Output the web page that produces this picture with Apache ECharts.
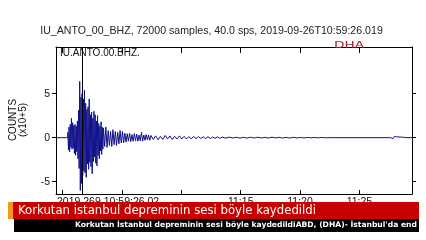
<!DOCTYPE html>
<html>
<head>
<meta charset="utf-8">
<script src="https://cdn.jsdelivr.net/npm/echarts@6/dist/echarts.min.js"></script>
<style>html,body{margin:0;padding:0;background:#fff}#c{width:426px;height:240px}</style>
</head>
<body>
<div id="c"></div>
<script>
// ---- data (minutes after 2019-09-26T10:59:26.019, counts x1e5) ----
const titleText = 'IU_ANTO_00_BHZ, 72000 samples, 40.0 sps, 2019-09-26T10:59:26.019';
const traceId = 'IU.ANTO.00.BHZ.';
const startLabel = '2019.269.10:59:26.02';
const xTickMinutes = [0.5664, 5.5664, 10.5664, 15.5664, 20.5664, 25.5664];
const xTickLabels = ['11:00', '11:05', '11:10', '11:15', '11:20', '11:25'];
const xLabelShown = ['11:15', '11:20', '11:25'];
const yTickValues = [-5, 0, 5];
const pickMinutes = 2.21;

const preEvent = [[0, 0], [0.98, 0]];
const onsetStart = 1.0, onsetStep = 0.05;
const onsetValues = [0.6, -1.4, 1.2, -1.6, 1.5, -1.1, 2.2, -1.3, 1.7, -1.2,
  1.4, -1.8, 1.5, -2.0, 1.3, -1.6, 1.9, -2.4, 3.1, -3.5,
  6.4, -6.0, 4.6, -5.2, 5.0, -4.3, 4.4, -3.8, 5.4, -4.0,
  3.9, -4.5, 3.2, -3.0, 3.5, -3.6, 4.4, -2.8, 2.6, -3.3,
  2.9, -4.1, 2.2, -2.7, 3.0, -2.2, 2.6, -2.9, 1.9, -3.2,
  2.5, -2.0, 1.6, -2.4, 1.3, -1.5, 1.8, -1.9, 1.2, -1.3];
const codaStart = 4.0, codaStep = 0.1;
const codaValues = [1.1, -1.0, 1.2, -1.1, 0.8, -0.9, 0.7, -1.0, 0.9, -0.8,
  0.7, -0.9, 0.6, -0.7, 0.8, -0.6, 0.7, -0.6, 0.5, -0.5,
  0.45, -0.4, 0.5, -0.45, 0.35, -0.4, 0.45, -0.35, 0.4, -0.4,
  0.3, -0.35, 0.6, -0.4, 0.3, -0.3, 0.35, -0.25, 0.3, -0.3];
const tailStart = 8.0, tailStep = 0.2;
const tailValues = [0.25, -0.2, 0.2, -0.25, 0.15, -0.2, 0.25, -0.15, 0.2, -0.2,
  0.15, -0.15, 0.2, -0.15, 0.15, -0.15, 0.12, -0.15, 0.15, -0.1,
  0.12, -0.1, 0.1, -0.1, 0.1, -0.1, 0.08, -0.08, 0.1, -0.08];
const quietStart = 14.0, quietStep = 0.3;
const quietValues = [0.06, -0.05, 0.06, -0.04, 0.05, -0.05, 0.04, -0.05, 0.05, -0.04,
  0.05, -0.04, 0.04, -0.04, 0.05, -0.03, 0.04, -0.04, 0.03, -0.04,
  0.04, -0.03, 0.03, -0.03, 0.03, -0.02, 0.02, -0.02, 0.02, -0.01];
const flatGap = [[23.0, 0], [28.2, 0]];
const blipStart = 28.3, blipStep = 0.1;
const blipValues = [0.08, -0.12, 0.12, -0.08, 0.1, -0.1, 0.08, -0.08, 0.06, -0.05, 0.04, -0.02];
const postEvent = [[29.5, 0], [30, 0]];

const headline = 'Korkutan istanbul depreminin sesi böyle kaydedildi';
const ticker = "Korkutan İstanbul depreminin sesi böyle kaydedildiABD, (DHA)- İstanbul'da end";

// ---- build ----
function seg(start, step, vals) { return vals.map((v, i) => [+(start + i * step).toFixed(4), v]); }
const trace = [].concat(preEvent, seg(onsetStart, onsetStep, onsetValues), seg(codaStart, codaStep, codaValues),
  seg(tailStart, tailStep, tailValues), seg(quietStart, quietStep, quietValues), flatGap,
  seg(blipStart, blipStep, blipValues), postEvent);

const FONT = 'Liberation Sans';
const chart = echarts.init(document.getElementById('c'), null, {renderer: 'canvas'});
const lineBlack = {show: true, onZero: false, lineStyle: {color: '#000', width: 1}};
chart.setOption({
  animation: false,
  backgroundColor: '#fff',
  grid: {left: 56, right: 14, top: 47, bottom: 46},
  xAxis: [{
    type: 'value', min: 0, max: 30, position: 'bottom',
    axisLine: lineBlack, splitLine: {show: false},
    axisTick: {show: true, inside: true, length: 4, customValues: xTickMinutes, lineStyle: {color: '#000'}},
    axisLabel: {show: true, margin: 3, fontFamily: FONT, fontSize: 10.5, color: '#111',
      customValues: xTickMinutes.filter((m, i) => xLabelShown.includes(xTickLabels[i])),
      formatter: v => { const i = xTickMinutes.findIndex(m => Math.abs(m - v) < 1e-3); return i >= 0 ? xTickLabels[i] : ''; }}
  }, {
    type: 'value', min: 0, max: 30, position: 'top',
    axisLine: lineBlack, splitLine: {show: false},
    axisTick: {show: true, inside: true, length: 6, customValues: xTickMinutes, lineStyle: {color: '#000'}},
    axisLabel: {show: false}
  }],
  yAxis: [{
    type: 'value', min: -6.4, max: 10.3, position: 'left',
    axisLine: lineBlack, splitLine: {show: false},
    axisTick: {show: true, inside: false, length: 4, customValues: yTickValues, lineStyle: {color: '#000'}},
    axisLabel: {show: true, margin: 6, fontFamily: FONT, fontSize: 10.5, color: '#111', customValues: yTickValues}
  }, {
    type: 'value', min: -6.4, max: 10.3, position: 'right',
    axisLine: lineBlack, splitLine: {show: false},
    axisTick: {show: true, inside: false, length: 4, customValues: yTickValues, lineStyle: {color: '#000'}},
    axisLabel: {show: false}
  }],
  series: [{
    type: 'line', data: trace, showSymbol: false, sampling: false,
    lineStyle: {color: '#10108a', width: 1}, z: 3,
    markLine: {silent: true, symbol: 'none', label: {show: false},
      lineStyle: {color: '#000', width: 1, type: 'solid'},
      data: [{xAxis: pickMinutes}]}
  }],
  graphic: [
    {type: 'text', x: 211.5, y: 31, z: 50, style: {text: titleText, fontFamily: FONT, fontSize: 10.6, fill: '#222', align: 'center', verticalAlign: 'middle'}},
    {type: 'text', x: 60, y: 53.5, z: 50, style: {text: traceId, fontFamily: FONT, fontSize: 10, fill: '#111', align: 'left', verticalAlign: 'middle'}},
    {type: 'text', x: 18, y: 120, rotation: Math.PI / 2, z: 50, style: {text: 'COUNTS\n(x10+5)', fontFamily: FONT, fontSize: 10, lineHeight: 10, fill: '#111', align: 'center', verticalAlign: 'middle'}},
    {type: 'text', x: 57, y: 197, z: 50, style: {text: startLabel, fontFamily: FONT, fontSize: 10.5, fill: '#111', align: 'left', verticalAlign: 'top'}},
    {type: 'text', x: 349, y: 46, scaleX: 1.7, z: 50, style: {text: 'DHA', fontFamily: 'DejaVu Sans', fontSize: 8, fill: '#a8203a', align: 'center', verticalAlign: 'middle'}},
    {type: 'rect', z: 100, shape: {x: 8, y: 202, width: 5, height: 17}, style: {fill: '#f5961e'}},
    {type: 'rect', z: 100, shape: {x: 13, y: 202, width: 406, height: 17}, style: {fill: '#c80000'}},
    {type: 'rect', z: 100, shape: {x: 14, y: 219, width: 405, height: 13}, style: {fill: '#000'}},
    {type: 'text', x: 18, y: 211, z: 101, style: {text: headline, fontFamily: 'DejaVu Sans', fontSize: 11.7, fill: '#fff', align: 'left', verticalAlign: 'middle'}},
    {type: 'text', x: 75, y: 225.5, z: 101, style: {text: ticker, fontFamily: 'DejaVu Sans', fontSize: 7.6, fontWeight: 'bold', fill: '#fff', align: 'left', verticalAlign: 'middle'}},
    {type: 'rect', z: 102, shape: {x: 419, y: 200, width: 7, height: 40}, style: {fill: '#fff'}}
  ]
});
</script>
</body>
</html>
